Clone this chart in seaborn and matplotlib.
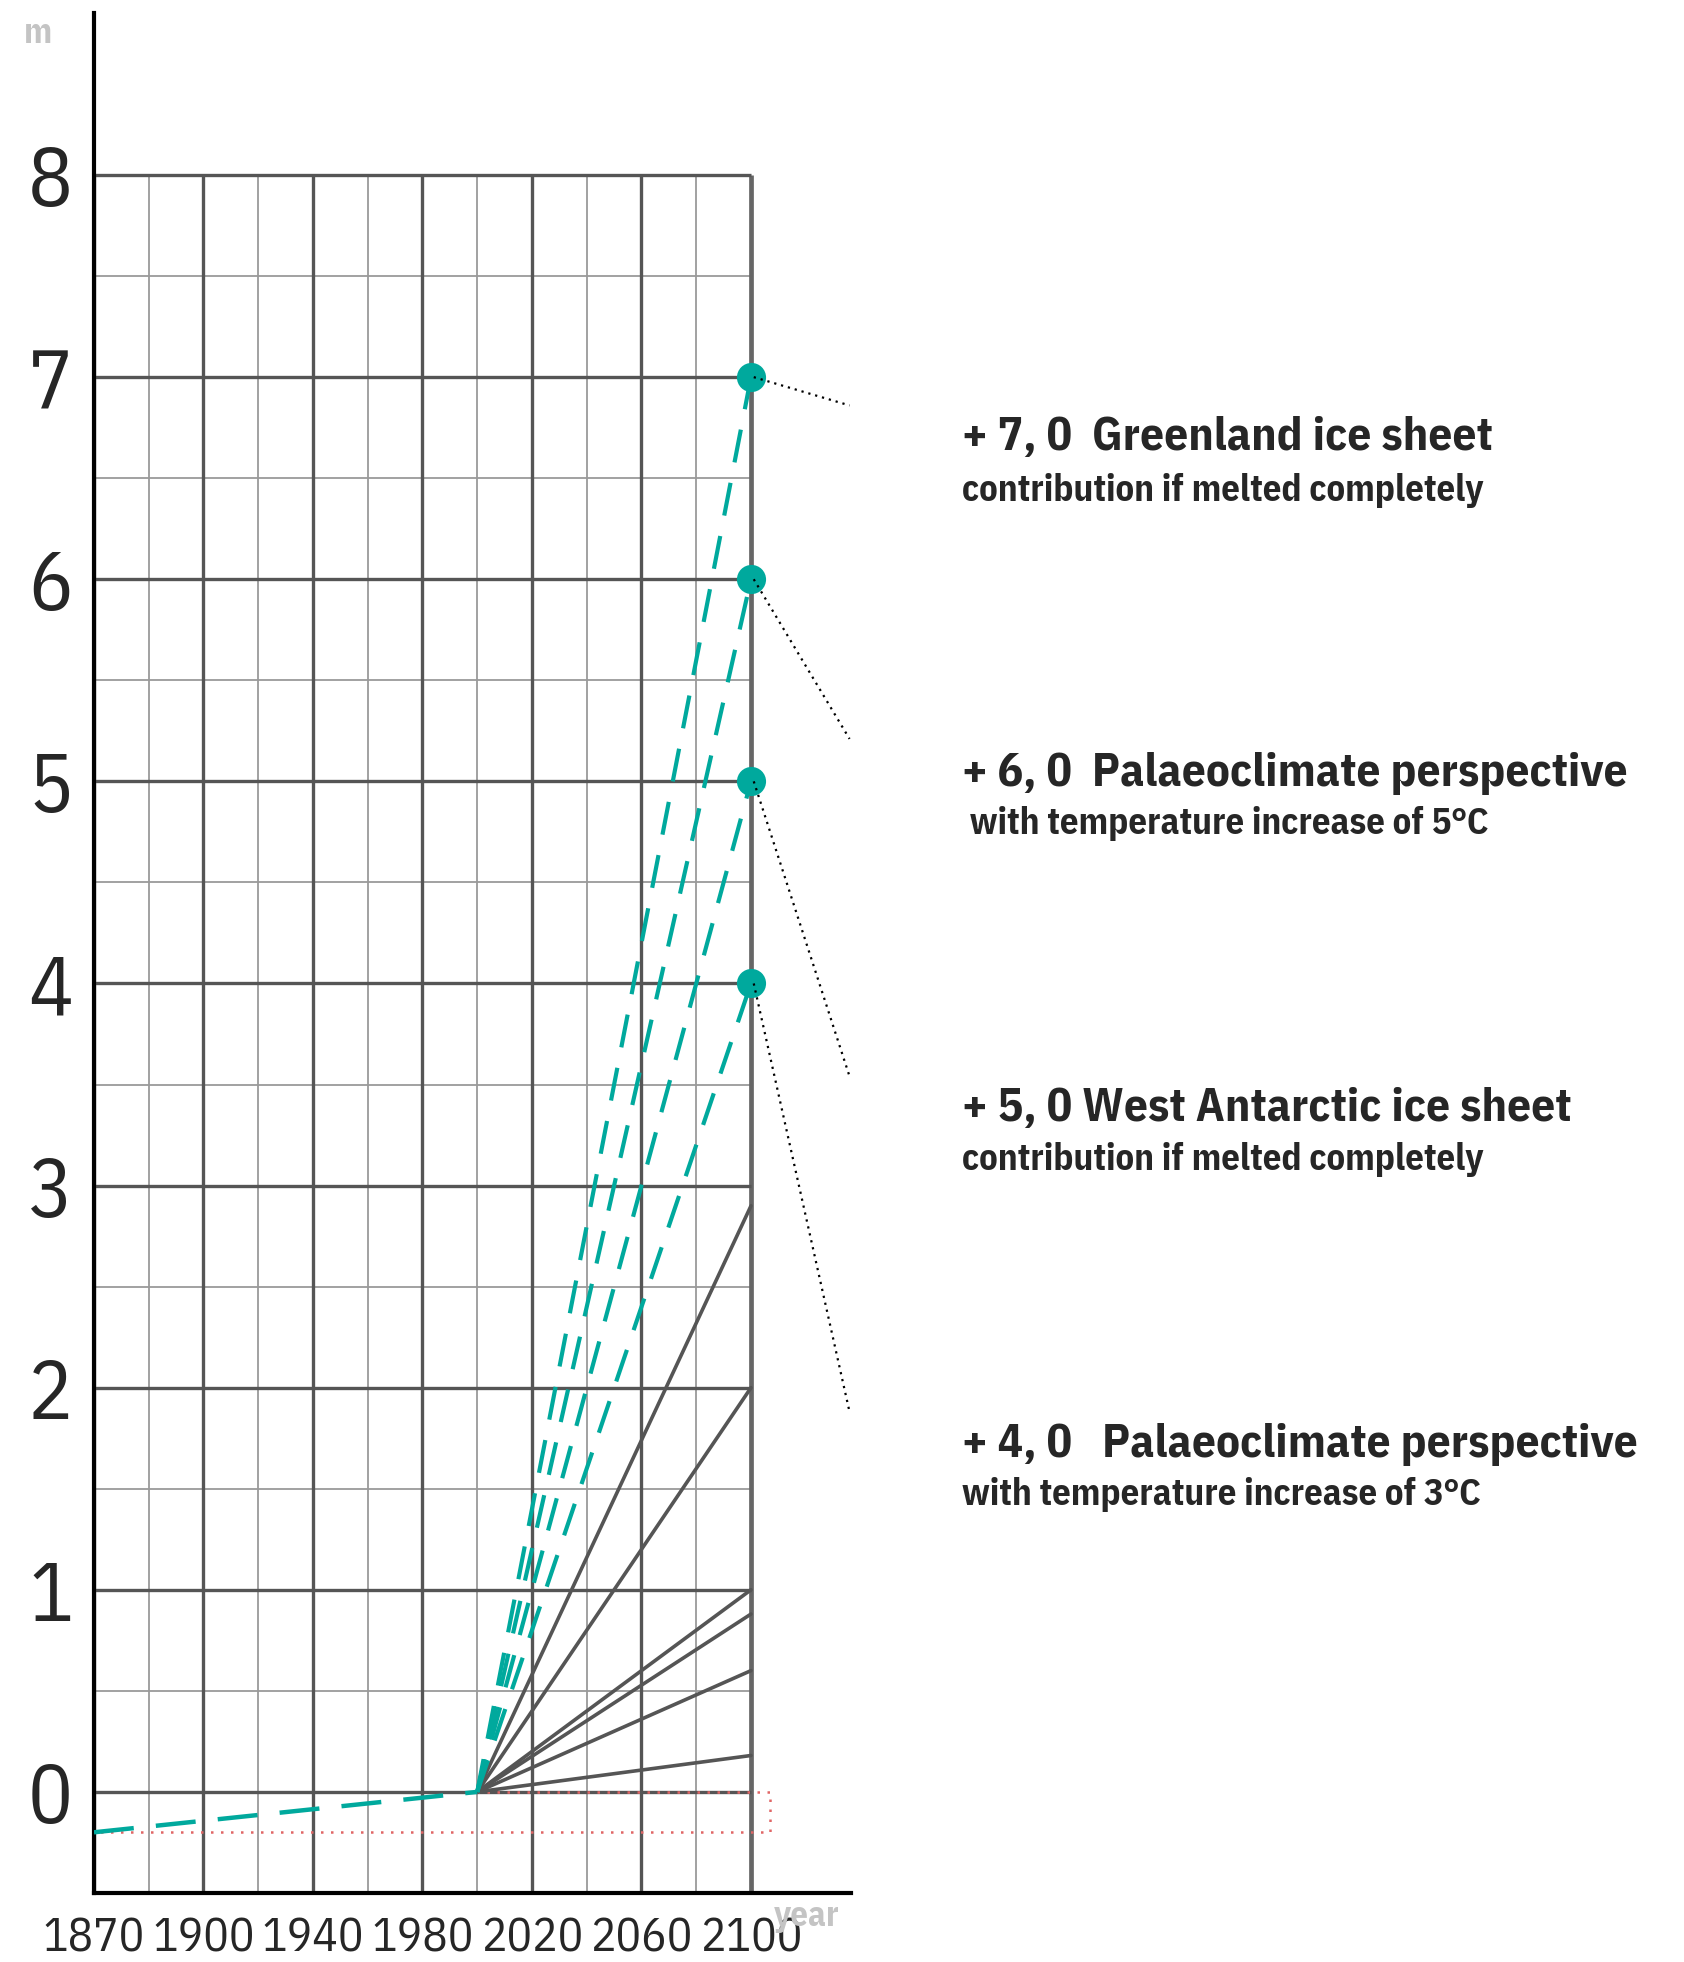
import matplotlib
matplotlib.use('Agg')
import matplotlib.pyplot as plt
import numpy as np
import pandas as pd
import seaborn as sns

# ---- data ----
start_year = 2000
end_year = 2100
gray_targets = [2.9, 2.0, 1.0, 0.88, 0.6, 0.18]          # solid projections (m in 2100)
teal_targets = [7.0, 6.0, 5.0, 4.0]                      # dashed scenarios (m in 2100)
hist_years = [1860, 2000]
hist_levels = [-0.2, 0.0]
callout_end_y = [6.86, 5.21, 3.54, 1.88]
callout_titles = ['+ 7, 0  Greenland ice sheet',
                  '+ 6, 0  Palaeoclimate perspective',
                  '+ 5, 0 West Antarctic ice sheet',
                  '+ 4, 0   Palaeoclimate perspective']
callout_subs = ['contribution if melted completely',
                ' with temperature increase of 5\u00b0C',
                'contribution if melted completely',
                'with temperature increase of 3\u00b0C']
callout_title_y = [6.70, 5.04, 3.38, 1.72]
callout_sub_y = [6.44, 4.79, 3.13, 1.47]
xtick_pos = [1860, 1900, 1940, 1980, 2020, 2060, 2100]
xtick_labels = ['1870', '1900', '1940', '1980', '2020', '2060', '2100']
ytick_pos = [0, 1, 2, 3, 4, 5, 6, 7, 8]

TEAL = '#00a99d'
DARK = '#555555'
LIGHT = '#9a9a9a'

sns.set_style('white')
plt.rcParams['font.family'] = ['IBM Plex Sans Condensed', 'Liberation Sans Narrow', 'DejaVu Sans']

fig = plt.figure(figsize=(16.84, 19.62), dpi=100)
ax = fig.add_axes([0.0558, 0.0352, 0.4495, 0.958])

# grid (stops at 2100 / 8 m)
minor_x = np.arange(1880, 2100, 40)
minor_y = np.arange(0.5, 8, 1.0)
ax.vlines(minor_x, -0.5, 8, color=LIGHT, lw=1.3, zorder=1)
ax.hlines(minor_y, 1860, 2100, color=LIGHT, lw=1.3, zorder=1)
ax.vlines(xtick_pos[:-1], -0.5, 8, color=DARK, lw=2.4, zorder=1)
ax.vlines([2100], -0.5, 8, color='#666666', lw=3.4, zorder=1)
ax.hlines(ytick_pos, 1860, 2100, color=DARK, lw=2.4, zorder=1)

# red dotted box around the observed range (left part of top edge hidden by the 0 line)
ax.plot([2000, 2107, 2107, 1860], [0, 0, -0.2, -0.2], ls=(0, (1, 3)),
        color='#e06666', lw=1.8, zorder=2)

# historical rise
sns.lineplot(x=hist_years, y=hist_levels, ax=ax, color=TEAL, lw=3.2,
             linestyle=(0, (9, 5)), zorder=4)

# solid projections
gray_df = pd.DataFrame([(i, yr, v) for i, t in enumerate(gray_targets)
                        for yr, v in ((start_year, 0.0), (end_year, t))],
                       columns=['run', 'year', 'level'])
sns.lineplot(data=gray_df, x='year', y='level', units='run', estimator=None,
             ax=ax, color=DARK, lw=2.6, zorder=3)

# dashed scenarios
for t in teal_targets:
    sns.lineplot(x=[start_year, end_year], y=[0.0, t], ax=ax, color=TEAL,
                 lw=3.0, linestyle=(0, (8, 5)), zorder=4)
sns.scatterplot(x=[end_year] * len(teal_targets), y=teal_targets, ax=ax,
                color=TEAL, s=440, linewidth=0, zorder=5)

# call-out leaders and labels
for t, ye in zip(teal_targets, callout_end_y):
    ax.plot([2101, 2136], [t, ye], ls=(0, (1, 2.2)), color='black', lw=1.6,
            zorder=6, clip_on=False)
for title, sub, ty, sy in zip(callout_titles, callout_subs,
                              callout_title_y, callout_sub_y):
    ax.text(2177, ty, title, fontsize=34, fontweight='bold', va='center',
            ha='left', clip_on=False)
    ax.text(2177, sy, sub, fontsize=26.5, fontweight='bold', va='center',
            ha='left', clip_on=False)

ax.set_xlim(1860, 2136.5)
ax.set_ylim(-0.5, 8.8)
ax.set_xticks(xtick_pos)
ax.set_xticklabels(xtick_labels, fontsize=34)
ax.set_yticks(ytick_pos)
ax.set_yticklabels([str(v) for v in ytick_pos], fontsize=60)
ax.tick_params(axis='both', length=0)
ax.tick_params(axis='x', pad=17)
ax.tick_params(axis='y', pad=15)
ax.set_xlabel('')
ax.set_ylabel('')
for s in ['top', 'right']:
    ax.spines[s].set_visible(False)
for s in ['left', 'bottom']:
    ax.spines[s].set_color('black')
    ax.spines[s].set_linewidth(3)

fig.text(0.0223, 0.983, 'm', fontsize=25, fontweight='bold', color='#c4c4c4',
         ha='center', va='center')
fig.text(0.479, 0.023, 'year', fontsize=25, fontweight='bold', color='#c4c4c4',
         ha='center', va='center', zorder=0)

fig.savefig('out.png', dpi=100)
